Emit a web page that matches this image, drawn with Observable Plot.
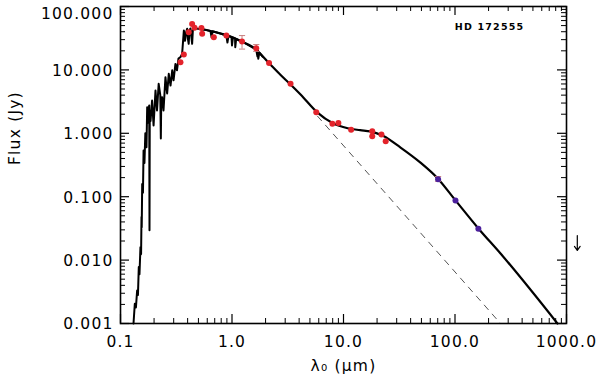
<!DOCTYPE html>
<html><head><meta charset="utf-8">
<script src="https://cdn.jsdelivr.net/npm/d3@7"></script>
<script src="https://cdn.jsdelivr.net/npm/@observablehq/plot@0.6"></script>
<style>body{margin:0;background:#fff}</style>
</head><body><div id="chart"></div>
<script>
// Stellar spectrum (jagged photosphere model), wavelength in micron, flux in Jy
const specWave = [0.1308,0.1344,0.1375,0.141,0.1434,0.1459,0.148,0.151,0.153,0.1543,0.155,0.1565,0.159,0.161,0.164,0.167,0.171,0.1735,0.176,0.178,0.181,0.182,0.183,0.186,0.192,0.198,0.206,0.2125,0.22,0.2275,0.23,0.232,0.236,0.243,0.253,0.262,0.271,0.281,0.291,0.299,0.311,0.321,0.331,0.345,0.357,0.37,0.379,0.387,0.396,0.402,0.409,0.415,0.424,0.439,0.446,0.47,0.52,0.578,0.641,0.656,0.67,0.787,0.89,0.91,0.93,0.99,1.0,1.02,1.065,1.07,1.09,1.32,1.65,1.69,1.71,1.72,1.76,1.88];
const specFlux = [0.001,0.00205,0.00179,0.00332,0.00282,0.00778,0.006,0.016,0.0124,0.0478,0.0329,0.159,0.116,0.536,0.339,1.0,0.604,2.58,1.47,2.29,2.75,0.0297,2.29,1.57,3.29,1.33,4.74,2.29,6.03,3.95,0.828,3.29,3.71,2.29,7.67,4.25,8.67,5.66,9.84,6.85,12.4,9.84,15.1,15.9,17.9,41.9,28.8,38.8,44.5,31.3,25.8,41.9,45.1,25.8,43.4,45.1,44.2,42.9,41.1,32.6,40.6,37.5,34.9,27.0,34.4,32.7,24.3,32.3,31.4,22.8,30.8,26.2,20.8,16.3,20.3,15.0,18.7,16.2];

// Total model (photosphere + disk)
const modelWave = [0.522,0.641,0.787,0.97,1.19,1.56,2.12,2.73,3.35,4.12,5.85,7.97,10.9,14.1,17.4,22.8,32.5,49,70,101,162,256,830];
const modelFlux = [44.2,41.1,37.5,33.7,28.6,22.6,13.1,8.3,5.89,4.09,2.12,1.45,1.2,1.12,1.07,0.906,0.594,0.344,0.194,0.0874,0.0316,0.0127,0.001];

// Photosphere extrapolation (dashed)
const photWave = [5.85, 256];
const photFlux = [1.86, 0.001];

// Photometry (red)
const photoWave = [0.345,0.37,0.409,0.439,0.461,0.532,0.54,0.687,0.89,1.23,1.65,2.15,3.35,5.7,7.95,9.0,11.7,18.1,18.1,21.9,23.9];
const photoFlux = [13.2,17.5,39.3,53.1,46.2,45.7,37.1,32.7,34.8,28.1,22.0,12.8,6.03,2.15,1.42,1.45,1.14,1.08,0.897,0.955,0.751];

// Error bars
const errWave = [1.23, 1.65, 70.5];
const errLow = [21.3, 19.6, 0.175];
const errHigh = [34.8, 25.1, 0.208];

// Far-IR photometry (purple)
const pacsWave = [70.5, 101, 162];
const pacsFlux = [0.188, 0.0874, 0.0313];

// Upper limit
const ulWave = [1250];
const ulTop = [0.0244];
const ulBottom = [0.0142];

// Ticks
const xMajor = [0.1, 1, 10, 100, 1000];
const xLabels = ["0.1", "1.0", "10.0", "100.0", "1000.0"];
const yMajor = [0.001, 0.01, 0.1, 1, 10, 100];
const yLabels = ["0.001", "0.010", "0.100", "1.000", "10.000", "100.000"];
const starName = "HD 172555";
const labelWave = [204], labelFlux = [48.4];

const spec = specWave.map((w, i) => ({w, f: specFlux[i]}));
const model = modelWave.map((w, i) => ({w, f: modelFlux[i]}));
const phot = photWave.map((w, i) => ({w, f: photFlux[i]}));
const photo = photoWave.map((w, i) => ({w, f: photoFlux[i]}));
const errs = errWave.map((w, i) => ({w, lo: errLow[i], hi: errHigh[i]}));
const pacs = pacsWave.map((w, i) => ({w, f: pacsFlux[i]}));
const ul = ulWave.map((w, i) => ({w, t: ulTop[i], b: ulBottom[i]}));

const xMinor = [], yMinor = [];
for (let k = -1; k <= 2; k++) for (let m = 2; m <= 9; m++) xMinor.push(m * Math.pow(10, k));
for (let k = -3; k <= 1; k++) for (let m = 2; m <= 9; m++) yMinor.push(m * Math.pow(10, k));

const W = 600, H = 381, mL = 120, mR = 34, mT = 6, mB = 58;
const pw = W - mL - mR, ph = H - mT - mB;
const capSymbol = {draw(ctx, size) { const r = Math.sqrt(size) / 2; ctx.moveTo(-r, 0); ctx.lineTo(r, 0); }};

const chart = Plot.plot({
  width: W, height: H,
  marginLeft: mL, marginRight: mR, marginTop: mT, marginBottom: mB,
  x: {type: "log", domain: [0.1, 1000], axis: null},
  y: {type: "log", domain: [0.001, 100], axis: null},
  style: {fontFamily: "DejaVu Sans", fontSize: "15.5px", letterSpacing: "1.2px", color: "#000", background: "#fff", overflow: "visible"},
  marks: [
    Plot.line(phot, {x: "w", y: "f", stroke: "#555", strokeWidth: 1, strokeDasharray: "6,6"}),
    Plot.line(spec, {x: "w", y: "f", stroke: "#000", strokeWidth: 2}),
    Plot.line(model, {x: "w", y: "f", stroke: "#000", strokeWidth: 2.2, curve: "monotone-x"}),
    Plot.ruleX(errs, {x: "w", y1: "lo", y2: "hi", stroke: "#c98080", strokeWidth: 1}),
    Plot.dot(errs, {x: "w", y: "lo", symbol: capSymbol, r: 3.5, stroke: "#c98080", fill: "none", strokeWidth: 1}),
    Plot.dot(errs, {x: "w", y: "hi", symbol: capSymbol, r: 3.5, stroke: "#c98080", fill: "none", strokeWidth: 1}),
    Plot.dot(photo, {x: "w", y: "f", r: 3, fill: "#e3232b"}),
    Plot.dot(pacs, {x: "w", y: "f", r: 3, fill: "#4b1f9c"}),
    Plot.arrow(ul, {x1: "w", y1: "t", x2: "w", y2: "b", stroke: "#000", strokeWidth: 1.2, headLength: 8, headAngle: 70}),
    Plot.text(labelWave.map((w, i) => ({w, f: labelFlux[i]})), {x: "w", y: "f", text: () => starName, fontWeight: "bold", fontSize: 9.5, letterSpacing: 1.3}),
    // inward ticks on all four sides
    Plot.tickX(xMajor, {x: d => d, insetTop: ph - 9, strokeWidth: 1.2}),
    Plot.tickX(xMajor, {x: d => d, insetBottom: ph - 9, strokeWidth: 1.2}),
    Plot.tickX(xMinor, {x: d => d, insetTop: ph - 5, strokeWidth: 1}),
    Plot.tickX(xMinor, {x: d => d, insetBottom: ph - 5, strokeWidth: 1}),
    Plot.tickY(yMajor, {y: d => d, insetRight: pw - 9, strokeWidth: 1.2}),
    Plot.tickY(yMajor, {y: d => d, insetLeft: pw - 9, strokeWidth: 1.2}),
    Plot.tickY(yMinor, {y: d => d, insetRight: pw - 5, strokeWidth: 1}),
    Plot.tickY(yMinor, {y: d => d, insetLeft: pw - 5, strokeWidth: 1}),
    Plot.frame({stroke: "#000", strokeWidth: 1.6}),
    // tick labels (top label nudged down to stay inside the picture, as in the original)
    Plot.text(xMajor, {x: d => d, text: (d, i) => xLabels[i], frameAnchor: "bottom", dy: 23}),
    Plot.text(yMajor.slice(0, 5), {y: d => d, text: (d, i) => yLabels[i], frameAnchor: "left", dx: -7, dy: 1, textAnchor: "end"}),
    Plot.text(yMajor.slice(5), {y: d => d, text: (d, i) => yLabels[i + 5], frameAnchor: "left", dx: -7, dy: 8, textAnchor: "end"}),
    // axis titles
    Plot.text(["λ₀ (μm)"], {text: d => d, frameAnchor: "bottom", dy: 47}),
    Plot.text(["Flux (Jy)"], {text: d => d, frameAnchor: "left", dx: -105, rotate: -90})
  ]
});
document.getElementById("chart").appendChild(chart);
</script></body></html>
